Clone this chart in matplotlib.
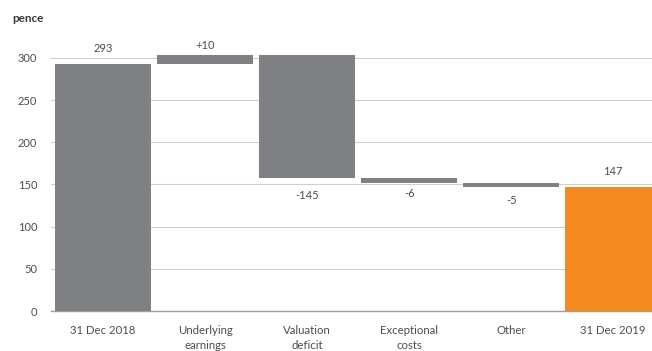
import matplotlib
matplotlib.use("Agg")
import matplotlib.pyplot as plt

categories = ["31 Dec 2018", "Underlying\nearnings", "Valuation\ndeficit",
              "Exceptional\ncosts", "Other", "31 Dec 2019"]
changes = [293, 10, -145, -6, -5, 147]
labels = ["293", "+10", "-145", "-6", "-5", "147"]
is_total = [True, False, False, False, False, True]
yticks = [0, 50, 100, 150, 200, 250, 300]

plt.rcParams['font.family'] = ['Lato', 'DejaVu Sans']
GREY = "#7f8084"
ORANGE = "#f48a1f"
TXT = "#4d4d4d"
label_offsets = [11, 7, -13, -8, -10, 11]

fig = plt.figure(figsize=(6.52, 3.51), dpi=100)
ax = fig.add_axes([51/652, 40/351, 1 - 51/652, 270/351])

running = 0
for i, (v, tot) in enumerate(zip(changes, is_total)):
    if tot:
        bottom, height = 0, v
        running = v
        color = ORANGE if i == len(changes) - 1 else GREY
    else:
        if v >= 0:
            bottom, height = running, v
        else:
            bottom, height = running + v, -v
        running += v
        color = GREY
    ax.bar(i, height, bottom=bottom, width=0.94, color=color, zorder=3)
    anchor = bottom + height if v >= 0 else bottom
    ax.annotate(labels[i], (i, anchor), xytext=(0, label_offsets[i]),
                textcoords="offset points", ha="center", va="center",
                fontsize=8, color=TXT)

ax.set_xlim(-0.51, 5.38)
ax.set_ylim(0, 320)
ax.set_yticks(yticks)
ax.yaxis.grid(True, color="#cfcfcf", linewidth=0.8, zorder=0)
ax.set_xticks(range(len(categories)))
ax.set_xticklabels(categories, fontsize=8.2, color=TXT, linespacing=1.45)
ax.tick_params(axis="x", length=0, pad=10)
ax.tick_params(axis="y", length=0, pad=10, labelsize=8, labelcolor=TXT)
for s in ["top", "right", "left"]:
    ax.spines[s].set_visible(False)
ax.spines["bottom"].set_color("#a0a0a0")
ax.spines["bottom"].set_linewidth(1.0)

fig.text(12/652, 1 - 18/351, "pence", fontsize=8.5, fontweight="bold",
         color="#3a3a3a", ha="left", va="center")

fig.savefig("out.png", dpi=100)
